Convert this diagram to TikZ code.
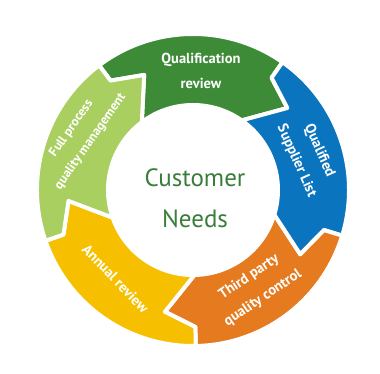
\documentclass[tikz,border=0pt]{standalone}
\usepackage{fontspec}
\setmainfont{PT Sans}
\definecolor{cgreen}{HTML}{3D8B37}
\definecolor{cblue}{HTML}{0B74BF}
\definecolor{corange}{HTML}{E57A1E}
\definecolor{cyellow}{HTML}{F6C000}
\definecolor{clight}{HTML}{A8CF60}
\definecolor{ctext}{HTML}{3A7D3A}
\newcommand\ringR{156}
\newcommand\ringr{85}
\newcommand\ringro{137}
\newcommand\ringra{125}
\newcommand\ringdd{14}
\newcommand\ringseg[3]{%
  \path[segfill=#1] (#2:\ringR) arc[start angle=#2, end angle=#3, radius=\ringR]
    -- (#3:\ringro) -- ({#3-\ringdd}:\ringra) -- (#3:\ringr)
    arc[start angle=#3, end angle=#2, radius=\ringr]
    -- ({#2-\ringdd}:\ringra) -- (#2:\ringro) -- cycle;}
\tikzset{
  segfill/.style={fill=#1, draw=white, line width=4pt, line join=round},
  lbl/.style={text=white, font=\bfseries\fontsize{14.5}{25}\selectfont, align=center, inner sep=0pt},
}
\begin{document}
\begin{tikzpicture}[x=1pt,y=1pt]
\useasboundingbox (-193,-184) rectangle (187,190);
\ringseg{cgreen}{127}{55}
\ringseg{cblue}{55}{-17}
\ringseg{corange}{-17}{-89}
\ringseg{cyellow}{-89}{-161}
\ringseg{clight}{199}{127}
\node[lbl] (tq) at (8,119) {Qualification\\review};
\node[lbl, rotate=-66] (ts) at (115,34) {Qualified\\Supplier List};
\node[lbl, rotate=34] (tt) at (63,-97.5) {Third party\\quality control};
\node[lbl, rotate=-46] (ta) at (-77.5,-88.5) {Annual review};
\node[lbl, rotate=55, font=\bfseries\fontsize{13}{23}\selectfont] (tf) at (-112,55) {Full process\\quality management};
\node[text=ctext, font=\fontsize{25}{41}\selectfont, align=center, inner sep=0pt] (tc) at (2,-8) {Customer\\Needs};
\end{tikzpicture}
\end{document}
